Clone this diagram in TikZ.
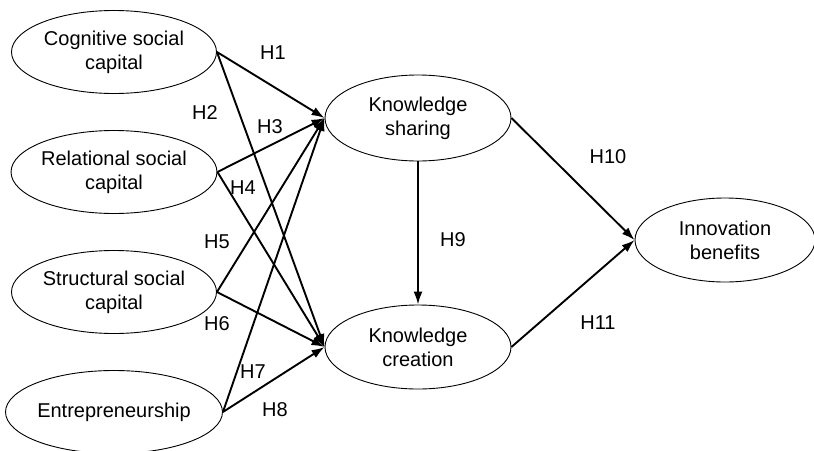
\documentclass[tikz,border=0pt]{standalone}
\usepackage{fontspec}
\setmainfont{Liberation Sans}
\usetikzlibrary{arrows.meta, shapes.geometric}

\begin{document}
\begin{tikzpicture}[x=1pt, y=-1pt, >={Latex[length=13pt, width=9pt]},
    construct/.style={draw, ellipse, line width=0.9pt, inner sep=0pt, minimum width=205pt, minimum height=83pt, align=center, font=\fontsize{20}{24}\selectfont},
    path/.style={->, line width=1.9pt},
    hyp/.style={font=\fontsize{20}{24}\selectfont}]
    \useasboundingbox (0, 0) rectangle (814, 450);

    % CONSTRUCTS
    \node (cog) at (114, 52) [construct] {Cognitive social\\capital};
    \node (rel) at (114, 172) [construct] {Relational social\\capital};
    \node (str) at (114, 292) [construct] {Structural social\\capital};
    \node (ent) at (114, 412) [construct] {Entrepreneurship};

    \node (share) at (418, 118) [construct, minimum width=186pt, minimum height=86pt] {Knowledge\\sharing};
    \node (create) at (418, 347) [construct, minimum width=186pt, minimum height=84pt] {Knowledge\\creation};

    \node (innov) at (725, 240) [construct, minimum width=180pt, minimum height=84pt] {Innovation\\benefits};

    % PATHS
    \draw[path] (cog.east) -- (share.west);
    \draw[path] (cog.east) -- (create.west);
    \draw[path] (rel.east) -- (share.west);
    \draw[path] (rel.east) -- (create.west);
    \draw[path] (str.east) -- (share.west);
    \draw[path] (str.east) -- (create.west);
    \draw[path] (ent.east) -- (share.west);
    \draw[path] (ent.east) -- (create.west);

    \draw[path] (share.south) -- (create.north);
    \draw[path] (share.east) -- (innov.west);
    \draw[path] (create.east) -- (innov.west);

    % HYPOTHESES
    \node (h1) at (273, 53) [hyp] {H1};
    \node (h2) at (205, 113) [hyp] {H2};
    \node (h3) at (270, 127) [hyp] {H3};
    \node (h4) at (243, 188) [hyp] {H4};
    \node (h5) at (217, 242) [hyp] {H5};
    \node (h6) at (217, 324) [hyp] {H6};
    \node (h7) at (253, 372) [hyp] {H7};
    \node (h8) at (275, 410) [hyp] {H8};
    \node (h9) at (453, 240) [hyp] {H9};
    \node (h10) at (608, 157) [hyp] {H10};
    \node (h11) at (598, 323) [hyp] {H11};
\end{tikzpicture}
\end{document}
